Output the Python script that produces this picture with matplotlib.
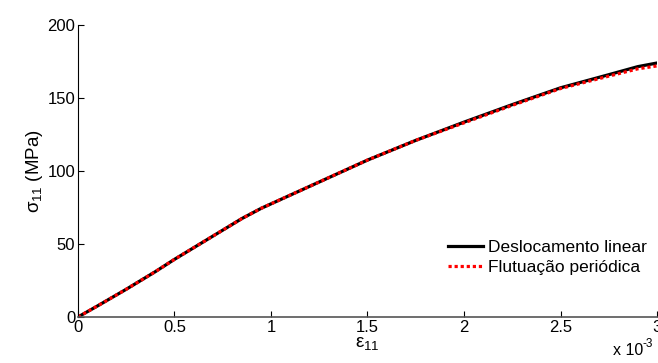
import matplotlib
matplotlib.use("Agg")
import matplotlib.pyplot as plt

# deformacao (x 10^-3) e tensao (MPa)
deformacao = [0.0, 0.1, 0.25, 0.4, 0.5, 0.6, 0.75, 0.85, 0.95, 1.0, 1.05, 1.15, 1.25,
              1.5, 1.75, 2.0, 2.25, 2.5, 2.75, 2.9, 3.0]
tensao_linear = [0.0, 7.5, 19.0, 31.0, 39.5, 47.5, 59.5, 67.5, 74.5, 77.5, 80.5, 86.5, 92.5,
                 107.5, 121.0, 133.5, 145.5, 157.0, 166.0, 171.5, 174.0]
tensao_periodica = [0.0, 7.5, 19.0, 31.0, 39.5, 47.5, 59.5, 67.5, 74.5, 77.5, 80.5, 86.5, 92.5,
                    107.5, 121.0, 133.0, 145.0, 156.5, 165.0, 170.0, 172.0]

xticks = [0, 0.5, 1, 1.5, 2, 2.5, 3]
xtick_labels = ["0", "0.5", "1", "1.5", "2", "2.5", "3"]
yticks = [0, 50, 100, 150, 200]

plt.rcParams["font.family"] = ["Liberation Sans", "DejaVu Sans"]
plt.rcParams["mathtext.fontset"] = "custom"
plt.rcParams["mathtext.rm"] = "Liberation Sans"
plt.rcParams["mathtext.it"] = "Liberation Sans"
plt.rcParams["mathtext.bf"] = "Liberation Sans:bold"

fig = plt.figure(figsize=(6.58, 3.63), dpi=100)
ax = fig.add_axes([0.1185, 0.1267, 0.88, 0.8043])

ax.plot(deformacao, tensao_linear, color="black", lw=2.3, label="Deslocamento linear")
ax.plot(deformacao, tensao_periodica, color="red", lw=2.3, ls=(0, (1, 0.9)),
        label="Flutuação periódica")

ax.set_xlim(0, 3)
ax.set_ylim(0, 200)
ax.set_xticks(xticks)
ax.set_xticklabels(xtick_labels)
ax.set_yticks(yticks)
ax.tick_params(direction="in", length=4, labelsize=12, colors="black", pad=2)
ax.spines["top"].set_visible(False)
ax.spines["right"].set_visible(False)
ax.spines["bottom"].set_color("#555555")
ax.spines["bottom"].set_linewidth(1.2)

ax.set_ylabel(r"$\sigma_{11}$ (MPa)", fontsize=13.5, labelpad=2)
ax.set_xlabel(r"$\epsilon_{11}$", fontsize=13.5, labelpad=0)

# fator de escala do eixo x (com hifen, como no original)
fig.text(0.932, 0.015, "x 10", fontsize=11.5, ha="left", va="bottom")
fig.text(0.976, 0.036, "-3", fontsize=8.5, ha="left", va="bottom")

ax.legend(loc="lower right", bbox_to_anchor=(0.982, 0.145), frameon=False,
          borderaxespad=0, borderpad=0, fontsize=12.5, handlelength=2.0,
          handletextpad=0.3, labelspacing=0.25)

fig.savefig("out.png", dpi=100)
